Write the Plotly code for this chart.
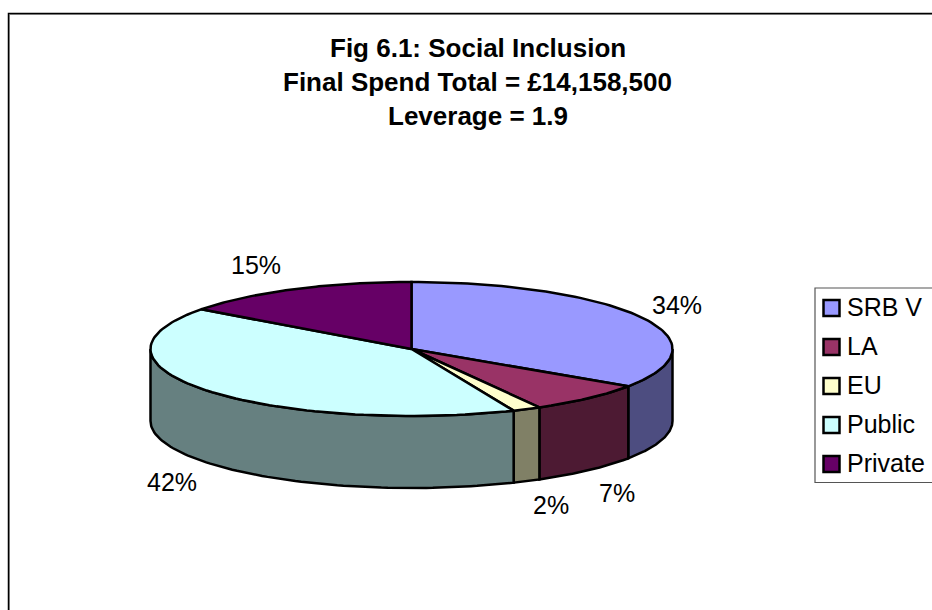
import math
import plotly.graph_objects as go

categories = ["SRB V", "LA", "EU", "Public", "Private"]
values = [34.4, 7.45, 1.75, 41.5, 14.9]
colors = ["#9999FF", "#993366", "#FFFFCC", "#CCFFFF", "#660066"]
wall_colors = ["#4D4D80", "#4D1A33", "#808066", "#668080", "#330033"]
title_lines = ["Fig 6.1: Social Inclusion", "Final Spend Total = £14,158,500", "Leverage = 1.9"]
title_y = [48, 82, 116]
label_pos = [(676.5, 304.5), (617, 492.5), (551, 504.5), (172, 482), (256, 265)]

CX, CY, RX, RY, DEPTH = 411.5, 349, 261, 67, 72
FONT = "Liberation Sans, Arial, sans-serif"
FS = 25


def pt(t, dy=0):
    return CX + RX * math.sin(t), CY - RY * math.cos(t) + dy


def arc(a, b, dy=0, n=80):
    return [pt(a + (b - a) * i / n, dy) for i in range(n + 1)]


total = sum(values)
edges = [0]
for v in values:
    edges.append(edges[-1] + v / total * 2 * math.pi)

fig = go.Figure()


def poly(points, fill):
    fig.add_trace(go.Scatter(
        x=[p[0] for p in points] + [points[0][0]],
        y=[p[1] for p in points] + [points[0][1]],
        mode="lines", fill="toself", fillcolor=fill,
        line=dict(color="black", width=2.5), hoverinfo="skip", showlegend=False,
    ))


# walls of the front half
for i in range(len(values)):
    a = max(edges[i], math.pi / 2)
    b = min(edges[i + 1], 3 * math.pi / 2)
    if b > a:
        poly(arc(a, b) + arc(b, a, DEPTH), wall_colors[i])

# top faces
for i in range(len(values)):
    poly([(CX, CY)] + arc(edges[i], edges[i + 1]), colors[i])

anns = []
for text, y in zip(title_lines, title_y):
    anns.append(dict(x=477.5, y=y, text=f"<b>{text}</b>", showarrow=False, xref="x", yref="y",
                     font=dict(family=FONT, size=26, color="black"), xanchor="center", yanchor="middle"))
for v, (x, y) in zip(values, label_pos):
    anns.append(dict(x=x, y=y, text=f"{round(v)}%", showarrow=False, xref="x", yref="y",
                     font=dict(family=FONT, size=FS, color="black"), xanchor="center", yanchor="middle"))

shapes = [
    dict(type="rect", xref="x", yref="y", x0=9.5, y0=14.5, x1=960, y1=640, line=dict(color="#A0A0A0", width=1), layer="below"),
    dict(type="rect", xref="x", yref="y", x0=8.5, y0=13.5, x1=960, y1=640, line=dict(color="black", width=1.5), layer="below"),
    dict(type="rect", xref="x", yref="y", x0=815, y0=288, x1=960, y1=482.5, line=dict(color="#555555", width=1.2), layer="below"),
]

legend_y = [308, 347, 386, 425, 464]
for name, col, y in zip(categories, colors, legend_y):
    shapes.append(dict(type="rect", xref="x", yref="y", x0=823.5, x1=839.5, y0=y - 8, y1=y + 8,
                       fillcolor=col, line=dict(color="black", width=2.5)))
    anns.append(dict(x=845, y=y - 1, text=name, showarrow=False, xref="x", yref="y", xanchor="left", yanchor="middle",
                     font=dict(family=FONT, size=FS, color="black")))

fig.update_layout(
    width=932, height=610, autosize=False, margin=dict(l=0, r=0, t=0, b=0),
    paper_bgcolor="white", plot_bgcolor="white", showlegend=False,
    xaxis=dict(range=[0, 932], visible=False, fixedrange=True),
    yaxis=dict(range=[610, 0], visible=False, fixedrange=True),
    annotations=anns, shapes=shapes,
)
fig.write_html("out.html", config={"displayModeBar": False},
               post_script="document.body.style.margin='0';document.body.style.overflow='hidden';")
